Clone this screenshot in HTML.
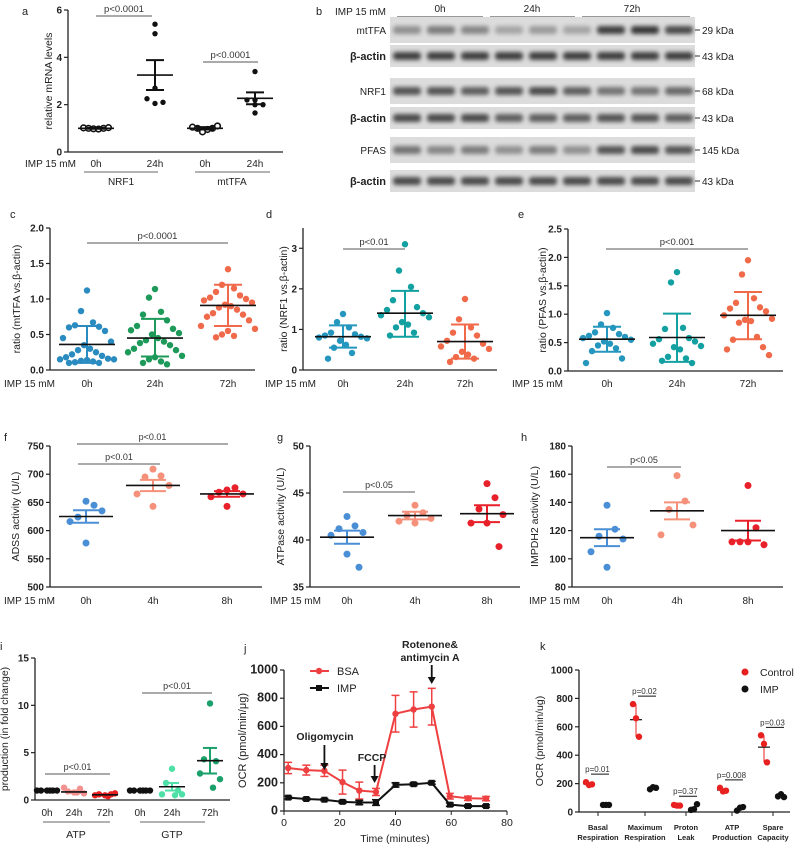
<!DOCTYPE html>
<html><head><meta charset="utf-8"><style>
body{margin:0;background:#fff}
svg{display:block;font-family:"Liberation Sans",sans-serif}
</style></head><body>
<svg id="fig" width="798" height="848" viewBox="0 0 798 848" xmlns="http://www.w3.org/2000/svg">
<defs><filter id="blur" x="-20%" y="-50%" width="140%" height="200%"><feGaussianBlur stdDeviation="2.2"/></filter></defs>
</svg>
<script>
// ===== Panel a data =====
const aCats=["0h","24h","0h","24h"];
const aNRF0=[1.02,1.0,0.98,0.97,1.0,1.03];
const aNRF24=[5.4,5.0,2.7,2.25,2.05,2.1];
const aMT0=[1.05,1.0,0.85,0.95,1.0,1.1];
const aMT24=[3.4,2.2,2.0,2.2,1.65,2.0];
const aMeans=[1.0,3.25,1.0,2.27];
const aSem=[0.02,0.63,0.05,0.25];
// ===== Panel c,d,e data =====
const cGroups=["0h","24h","72h"];
const c0=[1.12,0.83,0.67,0.63,0.61,0.60,0.55,0.45,0.40,0.35,0.30,0.28,0.25,0.22,0.20,0.18,0.16,0.15,0.15,0.14,0.13,0.12,0.11,0.10,0.10];
const c24=[1.14,1.02,0.82,0.78,0.70,0.62,0.58,0.56,0.52,0.50,0.45,0.42,0.40,0.38,0.35,0.30,0.28,0.25,0.20,0.18,0.15,0.12,0.10,0.08];
const c72=[1.42,1.20,1.15,1.10,1.05,1.02,1.00,0.98,0.95,0.92,0.90,0.88,0.85,0.80,0.78,0.75,0.70,0.62,0.58,0.55,0.50,0.48,0.46];
const cMean=[0.36,0.45,0.91], cHi=[0.62,0.72,1.2], cLo=[0.10,0.19,0.62];
const d0=[1.38,1.18,1.05,0.92,0.88,0.85,0.82,0.80,0.78,0.72,0.62,0.55,0.42,0.28];
const d24=[3.1,2.45,2.05,1.72,1.55,1.48,1.40,1.35,1.30,1.18,1.12,1.05,0.92,0.85];
const d72=[1.75,1.25,1.05,0.92,0.85,0.72,0.65,0.58,0.52,0.45,0.38,0.32,0.28,0.20];
const dMean=[0.82,1.4,0.7], dHi=[1.1,1.95,1.12], dLo=[0.55,0.82,0.28];
const e0=[1.02,0.82,0.76,0.68,0.65,0.62,0.60,0.58,0.55,0.52,0.48,0.45,0.40,0.35,0.22,0.14];
const e24=[1.74,1.56,0.76,0.74,0.58,0.56,0.52,0.48,0.44,0.42,0.38,0.25,0.22,0.18,0.14];
const e72=[1.95,1.70,1.28,1.20,1.12,1.10,1.05,0.98,0.92,0.90,0.88,0.85,0.60,0.55,0.42,0.38,0.28];
const eMean=[0.56,0.59,0.98], eHi=[0.78,1.01,1.39], eLo=[0.34,0.16,0.56];
// ===== Panel f,g,h data =====
const fgGroups=["0h","4h","8h"];
const f0=[652,645,624,635,616,578], f4=[709,697,695,680,665,643], f8=[672,676,668,665,660,643];
const fMean=[625,680,665], fSem=[11,10,5];
const g0=[42.5,41.5,41.2,40.8,40.5,38.5,37.1], g4=[43.7,42.9,42.6,42.3,42.0,41.8], g8=[46.0,44.5,43.3,42.7,41.8,41.8,39.3];
const gMean=[40.3,42.6,42.8], gSem=[0.7,0.4,0.9];
const h0=[138,121,116,114,105,94], h4=[159,141,135,124,117], h8=[152,122,112,110,112,112];
const hMean=[115,134,120], hSem=[6,6,7];
// ===== Panel i data =====
const iCats=["0h","24h","72h","0h","24h","72h"];
const iATP0=[1,1,1,1,1,1], iATP24=[0.8,0.9,1.2,1.3,0.7,0.8], iATP72=[0.5,0.6,0.6,0.5,0.7,0.4];
const iGTP0=[1,1,1,1,1,1], iGTP24=[3.3,1.8,1.0,0.6,0.6,0.5], iGTP72=[10.2,4.3,4.1,2.8,2.2,1.3];
const iMean=[1,0.85,0.55,1,1.4,4.15], iSem=[0.02,0.1,0.05,0.02,0.4,1.35];
// ===== Panel j data =====
const jTime=[1.5,8,14.5,21,27,33,40,46.5,53,59.5,66,72.5];
const jBSA=[305,290,285,205,145,135,690,720,740,105,90,88];
const jBSAerr=[40,35,40,85,60,25,130,125,130,20,15,15];
const jIMP=[95,85,80,65,60,60,185,190,200,45,35,35];
const jIMPerr=[10,8,8,10,15,20,15,10,10,12,8,8];
const jTicksX=[0,20,40,60,80], jTicksY=[0,200,400,600,800,1000];
// ===== Panel k data =====
const kCats=[["Basal","Respiration"],["Maximum","Respiration"],["Proton","Leak"],["ATP","Production"],["Spare","Capacity"]];
const kCtrl=[[210,190,195],[760,660,530],[50,45,45],[170,145,150],[540,480,350]];
const kIMP=[[50,50,50],[160,175,170],[15,20,55],[10,30,35],[110,125,105]];
const kP=["p=0.01","p=0.02","p=0.37","p=0.008","p=0.03"];
// ===== Western blot intensities (per lane) =====
const wbRows=[
 {label:"mtTFA",kda:"29 kDa",y:30,int:[0.45,0.55,0.5,0.35,0.4,0.35,0.85,0.9,0.8]},
 {label:"β-actin",kda:"43 kDa",y:56,int:[0.85,0.85,0.85,0.85,0.85,0.85,0.85,0.85,0.85]},
 {label:"NRF1",kda:"68 kDa",y:91,int:[0.75,0.75,0.7,0.75,0.8,0.7,0.6,0.6,0.65]},
 {label:"β-actin",kda:"43 kDa",y:118,int:[0.8,0.8,0.8,0.7,0.7,0.7,0.75,0.75,0.7]},
 {label:"PFAS",kda:"145 kDa",y:150,int:[0.6,0.5,0.55,0.45,0.55,0.45,0.75,0.8,0.75]},
 {label:"β-actin",kda:"43 kDa",y:181,int:[0.8,0.8,0.8,0.8,0.8,0.8,0.8,0.8,0.8]}
];

const svg=document.getElementById('fig');
const NS="http://www.w3.org/2000/svg";
function el(tag,at,parent){const e=document.createElementNS(NS,tag);for(const k in at)e.setAttribute(k,at[k]);(parent||svg).appendChild(e);return e;}
function txt(x,y,s,at,parent){const t=el('text',Object.assign({x:x,y:y,'font-size':10,fill:'#222'},at||{}),parent);t.textContent=s;return t;}
function group(name){const g=el('g',{});return g;}

function axes(g,o){
 const ys=v=>o.yBot-(v-o.min)/(o.max-o.min)*(o.yBot-o.yTop);
 const ya=el('line',{x1:o.x0,y1:o.yTop,x2:o.x0,y2:o.yBot,stroke:'#222','stroke-width':1.3},g);
 
 const xa=el('line',{x1:o.x0,y1:o.yBot,x2:o.xEnd,y2:o.yBot,stroke:'#222','stroke-width':1.3},g);
 
 o.ticks.forEach(t=>{const y=ys(t);el('line',{x1:o.x0-4,y1:y,x2:o.x0,y2:y,stroke:'#222','stroke-width':1.2},g);
  const tl=txt(o.x0-6,y+3.5,o.fmt(t),{'text-anchor':'end','font-weight':'bold','font-size':o.tfs||10},g);
  });
 if(o.title){const tt=txt(o.titleX,(o.yTop+o.yBot)/2,o.title,{'text-anchor':'middle','font-size':o.titleFs||10.5,transform:`rotate(-90 ${o.titleX} ${(o.yTop+o.yBot)/2})`},g);
  }
 return ys;
}
const OFF=[0,-6,6,-12,12,-18,18,-24,24,-3,3,-9,9,-15,15,-21,21,-27,27,0,-6,6,-12,12,-18];
function dots(g,cx,vals,ys,color,r,open,spread){
 vals.forEach((v,i)=>{const c=el('circle',{cx:cx+OFF[i%OFF.length]*(spread||1),cy:ys(v),r:r,fill:open?'#fff':color,stroke:color,'stroke-width':open?1.6:0},g);
  });
}
function summary(g,cx,mean,hi,lo,ys,color,mw,cw){
 el('line',{x1:cx,y1:ys(hi),x2:cx,y2:ys(lo),stroke:color,'stroke-width':2},g);
 el('line',{x1:cx-cw,y1:ys(hi),x2:cx+cw,y2:ys(hi),stroke:color,'stroke-width':2},g);
 el('line',{x1:cx-cw,y1:ys(lo),x2:cx+cw,y2:ys(lo),stroke:color,'stroke-width':2},g);
 const m=el('line',{x1:cx-mw,y1:ys(mean),x2:cx+mw,y2:ys(mean),stroke:'#111','stroke-width':1.6},g);
 
}
function pline(g,x1,x2,y,s,fs){el('line',{x1:x1,y1:y,x2:x2,y2:y,stroke:'#555','stroke-width':1},g);
 const t=txt((x1+x2)/2,y-4,s,{'text-anchor':'middle','font-size':fs||9,fill:'#333'},g);}
function xlabels(g,xs,labels,y,startX){const t=txt(startX,y,"IMP 15 mM",{'font-size':10},g);
 labels.forEach((l,i)=>{const q=txt(xs[i],y,l,{'text-anchor':'middle','font-size':10},g);});}
function letter(g,x,y,s){const t=txt(x,y,s,{'font-size':11},g);}

// ----- Panel a -----
(function(){const g=group('panel-a');letter(g,22,15,'a');
 const ys=axes(g,{x0:68,xEnd:283,yTop:10,yBot:152,min:0,max:6,ticks:[0,2,4,6],fmt:v=>v,title:'relative mRNA levels',titleX:52});
 const xs=[96,155,205,255];
 [[aNRF0,true],[aNRF24,false],[aMT0,true],[aMT24,false]].forEach((d,i)=>{
  d[0].forEach((v,j)=>{const c=el('circle',{cx:xs[i]+(d[1]?(j-2.5)*5:[0,0,0,-8,0,8][j]),cy:ys(v),r:d[1]?2.8:2.7,fill:d[1]?'#fff':'#111',stroke:'#111','stroke-width':d[1]?1.6:0},g);
   });
  summary(g,xs[i],aMeans[i],aMeans[i]+aSem[i],aMeans[i]-aSem[i],ys,'#111',18,9);});
 pline(g,96,152,16,'p<0.0001',9.5);pline(g,203,258,62,'p<0.0001',9.5);
 xlabels(g,xs,aCats,167,25);
 el('line',{x1:84,y1:172,x2:158,y2:172,stroke:'#666'},g);el('line',{x1:195,y1:172,x2:270,y2:172,stroke:'#666'},g);
 txt(121,185,'NRF1',{'text-anchor':'middle','font-size':10},g);txt(232,185,'mtTFA',{'text-anchor':'middle','font-size':10},g);
})();

// ----- Panel b (western blot) -----
(function(){const g=group('panel-b-western-blot');letter(g,316,15,'b');
 txt(335,15,'IMP 15 mM',{'font-size':10},g);
 [['0h',440,397,483],['24h',532,490,575],['72h',632,582,690]].forEach(c=>{txt(c[1],12,c[0],{'text-anchor':'middle','font-size':10},g);el('line',{x1:c[2],y1:17,x2:c[3],y2:17,stroke:'#333'},g);});
 wbRows.forEach(r=>{
  const h=(r.label==='β-actin')?22:26;
  const bg=el('rect',{x:390,y:r.y-h/2,width:305,height:h,fill:'#dcdcdc'},g);
  r.int.forEach((v,i)=>{const cx=407+i*34;const gv=Math.round(235-v*200);
   el('rect',{x:cx-14,y:r.y-4,width:28,height:8,rx:3,fill:`rgb(${gv},${gv},${gv})`,filter:'url(#blur)'},g);});
  txt(386,r.y+4,r.label,{'text-anchor':'end','font-size':r.label==='β-actin'?11:10,'font-weight':r.label==='β-actin'?'bold':'normal'},g);
  el('line',{x1:695,y1:r.y,x2:700,y2:r.y,stroke:'#333'},g);
  txt(702,r.y+4,r.kda,{'font-size':10},g);
 });
})();

// ----- Panels c,d,e -----
function ratioPanel(name,L,lx,o,sets,means,his,los,colors,xs,pl,lblX){
 const g=group(name);letter(g,lx,218,L);
 const ys=axes(g,o);
 sets.forEach((s,i)=>{dots(g,xs[i],s,ys,colors[i],3.2,false,1);summary(g,xs[i],means[i],his[i],los[i],ys,colors[i],28,14);});
 pline(g,pl[0],pl[1],pl[2],pl[3],9.5);
 xlabels(g,xs,cGroups,387,lblX);
}
ratioPanel('panel-c','c',10,{x0:50,xEnd:255,yTop:228,yBot:370,min:0,max:2,ticks:[0,0.5,1,1.5,2],fmt:v=>v.toFixed(1),title:'ratio (mtTFA vs.β-actin)',titleX:20},
 [c0,c24,c72],cMean,cHi,cLo,['#2a8bc0','#1d9a5a','#f0694a'],[87,155,228],[87,228,243,'p<0.0001'],4);
ratioPanel('panel-d','d',266,{x0:303,xEnd:497,yTop:228,yBot:370,min:0,max:3.5,ticks:[0,1,2,3],fmt:v=>v,title:'ratio (NRF1 vs.β-actin)',titleX:287},
 [d0,d24,d72],dMean,dHi,dLo,['#2596be','#12a0a0','#f06a4a'],[343,405,465],[343,405,249,'p<0.01'],265);
ratioPanel('panel-e','e',518,{x0:568,xEnd:783,yTop:229,yBot:371,min:0,max:2.5,ticks:[0,0.5,1,1.5,2,2.5],fmt:v=>v.toFixed(1),title:'ratio (PFAS vs.β-actin)',titleX:546},
 [e0,e24,e72],eMean,eHi,eLo,['#2596be','#12a0a0','#f06a4a'],[607,677,748],[606,748,249,'p<0.001'],512);

// ----- Panels f,g,h -----
function actPanel(name,L,lx,o,sets,means,sems,xs,pls,lblX){
 const g=group(name);letter(g,lx,441,L);
 const ys=axes(g,o);const colors=['#4a8fd6','#f5907a','#e8202a'];
 sets.forEach((s,i)=>{s.forEach((v,j)=>{const c=el('circle',{cx:xs[i]+[0,8,-8,16,-16,0,12][j],cy:ys(v),r:3.5,fill:colors[i]},g);});
  summary(g,xs[i],means[i],means[i]+sems[i],means[i]-sems[i],ys,colors[i],27,13);});
 pls.forEach(p=>pline(g,p[0],p[1],p[2],p[3],9));
 xlabels(g,xs,fgGroups,604,lblX);
}
actPanel('panel-f','f',4,{x0:50,xEnd:262,yTop:446,yBot:587,min:500,max:750,ticks:[500,550,600,650,700,750],fmt:v=>v,title:'ADSS activity (U/L)',titleX:19},
 [f0,f4,f8],fMean,fSem,[86,153,227],[[77,228,444,'p<0.01'],[78,160,464,'p<0.01']],4);
actPanel('panel-g','g',277,{x0:310,xEnd:520,yTop:446,yBot:587,min:35,max:50,ticks:[35,40,45,50],fmt:v=>v,title:'ATPase activity (U/L)',titleX:284},
 [g0,g4,g8],gMean,gSem,[347,415,487],[[343,415,492,'p<0.05']],270);
actPanel('panel-h','h',521,{x0:572,xEnd:783,yTop:446,yBot:587,min:80,max:180,ticks:[80,100,120,140,160,180],fmt:v=>v,title:'IMPDH2 activity (U/L)',titleX:538},
 [h0,h4,h8],hMean,hSem,[607,677,748],[[607,681,467,'p<0.05']],529);

// ----- Panel i -----
(function(){const g=group('panel-i');letter(g,0,650,'i');
 const ys=axes(g,{x0:35,xEnd:230,yTop:658,yBot:800,min:0,max:15,ticks:[0,5,10,15],fmt:v=>v,title:'production (in fold change)',titleX:8});
 const xs=[47,74,105,140,172,210];const cols=['#111','#f39090','#e82020','#111','#4fe0a8','#1aa06a'];
 [iATP0,iATP24,iATP72,iGTP0,iGTP24,iGTP72].forEach((s,i)=>{s.forEach((v,j)=>{const c=el('circle',{cx:xs[i]+[0,-6,6,-10,10,3][j],cy:ys(v),r:3.2,fill:cols[i]},g);});
  summary(g,xs[i],iMean[i],iMean[i]+iSem[i],iMean[i]-iSem[i],ys,cols[i],13,7);});
 pline(g,45,110,774,'p<0.01',9);pline(g,142,212,693,'p<0.01',9);
 iCats.forEach((l,i)=>{const t=txt(xs[i],816,l,{'text-anchor':'middle','font-size':10},g);});
 el('line',{x1:43,y1:822,x2:110,y2:822,stroke:'#666'},g);el('line',{x1:140,y1:822,x2:205,y2:822,stroke:'#666'},g);
 txt(76,838,'ATP',{'text-anchor':'middle','font-size':10.5},g);txt(172,838,'GTP',{'text-anchor':'middle','font-size':10.5},g);
})();

// ----- Panel j -----
(function(){const g=group('panel-j');letter(g,244,652,'j');
 const ys=axes(g,{x0:284,xEnd:507,yTop:670,yBot:811,min:0,max:1000,ticks:jTicksY,fmt:v=>v,title:'OCR (pmol/min/μg)',titleX:246,tfs:12.5,titleFs:11});
 const xsc=t=>284+t/80*(507-284);
 jTicksX.forEach(t=>{el('line',{x1:xsc(t),y1:811,x2:xsc(t),y2:815,stroke:'#222'},g);const q=txt(xsc(t),826,t,{'text-anchor':'middle','font-size':10.5},g);});
 const tt=txt(395,842,'Time (minutes)',{'text-anchor':'middle','font-size':10.5},g);
 function series(vals,errs,color,sq,nm){
  const p=el('polyline',{points:vals.map((v,i)=>xsc(jTime[i])+','+ys(v)).join(' '),fill:'none',stroke:color,'stroke-width':2},g);
  
  vals.forEach((v,i)=>{const x=xsc(jTime[i]);el('line',{x1:x,y1:ys(v+errs[i]),x2:x,y2:ys(v-errs[i]),stroke:color,'stroke-width':1.5},g);
   el('line',{x1:x-4,y1:ys(v+errs[i]),x2:x+4,y2:ys(v+errs[i]),stroke:color,'stroke-width':1.5},g);
   el('line',{x1:x-4,y1:ys(v-errs[i]),x2:x+4,y2:ys(v-errs[i]),stroke:color,'stroke-width':1.5},g);
   const m=sq?el('rect',{x:x-3,y:ys(v)-3,width:6,height:6,fill:color},g):el('circle',{cx:x,cy:ys(v),r:3.2,fill:color},g);
   });
 }
 series(jBSA,jBSAerr,'#ee4040',false,'bsa');series(jIMP,jIMPerr,'#111',true,'imp');
 el('line',{x1:310,y1:671,x2:329,y2:671,stroke:'#ee4040','stroke-width':2},g);el('circle',{cx:319,cy:671,r:3.2,fill:'#ee4040'},g);
 txt(337,675,'BSA',{'font-size':11},g);
 el('line',{x1:310,y1:688,x2:329,y2:688,stroke:'#111','stroke-width':2},g);el('rect',{x:316,y:685,width:6,height:6,fill:'#111'},g);
 txt(337,692,'IMP',{'font-size':11},g);
 function arrow(t,y1,y2){const x=xsc(t);el('line',{x1:x,y1:y1,x2:x,y2:y2-5,stroke:'#111','stroke-width':1.8},g);el('polygon',{points:`${x-4},${y2-7} ${x+4},${y2-7} ${x},${y2}`,fill:'#111'},g);}
 txt(325,740,'Oligomycin',{'text-anchor':'middle','font-size':10.5,'font-weight':'bold'},g);arrow(14.5,745,770);
 txt(372,761,'FCCP',{'text-anchor':'middle','font-size':10.5,'font-weight':'bold'},g);arrow(32.5,765,783);
 txt(430,648,'Rotenone&',{'text-anchor':'middle','font-size':10.5,'font-weight':'bold'},g);
 txt(430,661,'antimycin A',{'text-anchor':'middle','font-size':10.5,'font-weight':'bold'},g);arrow(53,665,684);
})();

// ----- Panel k -----
(function(){const g=group('panel-k');letter(g,540,650,'k');
 const ys=axes(g,{x0:579,xEnd:790,yTop:670,yBot:812,min:0,max:1000,ticks:[0,200,400,600,800,1000],fmt:v=>v,title:'OCR (pmol/min/ug)',titleX:543});
 const xs=[598,645,686,732,773];
 kCats.forEach((c,i)=>{const cx=xs[i];el('line',{x1:cx,y1:812,x2:cx,y2:816,stroke:'#222'},g);
  const t1=txt(cx,830,c[0],{'text-anchor':'middle','font-size':7.5,'font-weight':'bold'},g);
  txt(cx,840,c[1],{'text-anchor':'middle','font-size':7.5,'font-weight':'bold'},g);
  const cc=cx-9, ci=cx+8;
  const cv=kCtrl[i],iv=kIMP[i];
  const cm=cv.reduce((a,b)=>a+b)/cv.length;
  const cmax=Math.max(...cv),cmin=Math.min(...cv);
  el('line',{x1:cc,y1:ys(cmax),x2:cc,y2:ys(cmin),stroke:'#e82020','stroke-width':1},g);
  el('line',{x1:cc-6,y1:ys(cm),x2:cc+6,y2:ys(cm),stroke:'#111','stroke-width':1.2},g);
  cv.forEach((v,j)=>{const d=el('circle',{cx:cc+[-3,0,3][j],cy:ys(v),r:3.2,fill:'#e82020'},g);});
  iv.forEach((v,j)=>{const d=el('circle',{cx:ci+[-3,0,3][j],cy:ys(v),r:3.2,fill:'#111'},g);});
  const py=ys(Math.max(cmax,Math.max(...iv)))-8;
  el('line',{x1:cc+2,y1:py,x2:ci+3,y2:py,stroke:'#111','stroke-width':1},g);
  txt((cc+ci)/2,py-2,kP[i],{'text-anchor':'middle','font-size':8,fill:'#333'},g);
 });
 el('circle',{cx:745,cy:672,r:3.5,fill:'#e82020'},g);txt(760,676,'Control',{'font-size':10.5},g);
 el('circle',{cx:745,cy:689,r:3.5,fill:'#111'},g);txt(760,693,'IMP',{'font-size':10.5},g);
})();
</script>
</body></html>
